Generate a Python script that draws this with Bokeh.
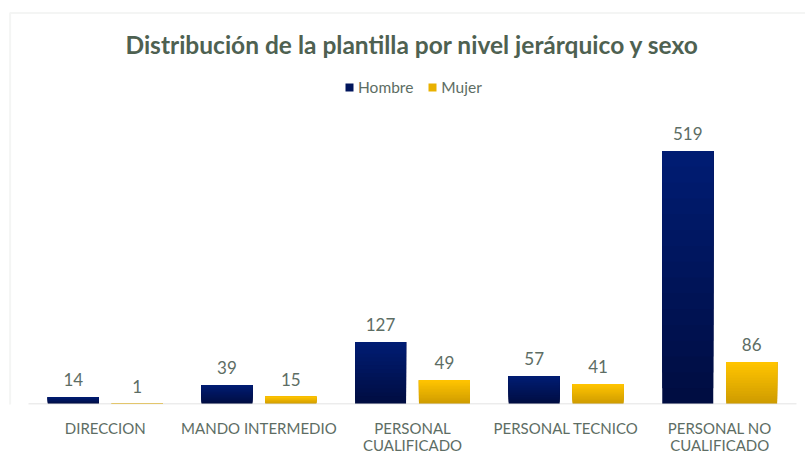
from bokeh.plotting import figure
from bokeh.models import Range1d, FixedTicker, Label, Legend, LegendItem, BoxAnnotation, ColumnDataSource
from bokeh.core.properties import value
from bokeh.embed import file_html
from bokeh.resources import INLINE

categories = ["DIRECCION", "MANDO INTERMEDIO", "PERSONAL\nCUALIFICADO",
              "PERSONAL TECNICO", "PERSONAL NO\nCUALIFICADO"]
hombre = [14, 39, 127, 57, 519]
mujer = [1, 15, 49, 41, 86]
series_names = ["Hombre", "Mujer"]

FONT = "Lato"
TXT = "#5d6d64"
TITLE_C = "#4e6151"

Y0, Y1 = -1, 827.8
p = figure(width=805, height=461,
           x_range=Range1d(-0.1823, 5.0586), y_range=Range1d(Y0, Y1),
           output_backend="svg", toolbar_location=None, title=None,
           y_axis_location=None,
           min_border_left=0, min_border_right=0, min_border_top=0, min_border_bottom=57)
p.outline_line_color = None
p.xgrid.grid_line_color = None
p.ygrid.grid_line_color = None

n = len(categories)
centers = [i + 0.5 for i in range(n)]


def lerp(c1, c2, t):
    a = [int(c1[i:i + 2], 16) for i in (1, 3, 5)]
    b = [int(c2[i:i + 2], 16) for i in (1, 3, 5)]
    return "#%02x%02x%02x" % tuple(round(a[j] + (b[j] - a[j]) * t) for j in range(3))


N = 16
grad = {"Hombre": ("#000d42", "#001c72"), "Mujer": ("#cf9c00", "#ffc400")}
offsets = {"Hombre": -0.208, "Mujer": 0.208}
legend_r = {}
for name, vals in zip(series_names, [hombre, mujer]):
    c0, c1 = grad[name]
    for k in range(N):
        src = ColumnDataSource(dict(
            x=[c + offsets[name] for c in centers],
            bottom=[v * k / N for v in vals],
            top=list(vals)))
        r = p.vbar(x="x", bottom="bottom", top="top", width=0.332, source=src,
                   fill_color=lerp(c0, c1, k / (N - 1)), line_color=None)
        if k == N // 2:
            legend_r[name] = r
    lsrc = ColumnDataSource(dict(x=[c + offsets[name] for c in centers], y=list(vals),
                                 t=[str(v) for v in vals]))
    p.text(x="x", y="y", text="t", source=lsrc, text_align="center", text_baseline="bottom",
           y_offset=-11, text_font_size="17px", text_color=TXT, text_font=value(FONT))

# baseline
p.segment(x0=[0], y0=[0], x1=[n], y1=[0], line_color="#d9d9d9", line_width=1)

p.xaxis.ticker = FixedTicker(ticks=centers)
p.xaxis.major_label_overrides = {c: lab for c, lab in zip(centers, categories)}
p.xaxis.axis_line_color = None
p.xaxis.major_tick_line_color = None
p.xaxis.minor_tick_line_color = None
p.xaxis.major_label_standoff = 8
p.xaxis.major_label_text_font_size = "15px"
p.xaxis.major_label_text_line_height = 0.95
p.xaxis.major_label_text_color = TXT
p.xaxis.major_label_text_font = FONT

title = Label(x=n / 2, y=737.5, text="Distribución de la plantilla por nivel jerárquico y sexo",
              text_align="center", text_baseline="middle", text_font_size="24.5px",
              text_font_style="bold", text_color=TITLE_C, text_font=FONT)
p.add_layout(title)

legend = Legend(items=[LegendItem(label=nm, renderers=[legend_r[nm]]) for nm in series_names],
                orientation="horizontal", location=(344, 308), border_line_color=None,
                background_fill_alpha=0, padding=0, margin=0, spacing=14,
                glyph_width=10, glyph_height=10, label_standoff=4, label_height=14,
                label_text_font_size="15.5px", label_text_color=TXT, label_text_font=FONT)
p.add_layout(legend)

border = BoxAnnotation(left=-0.120, right=6, top=802.2, bottom=-300, fill_alpha=0,
                       line_color="#d9dedb", line_width=2)
p.add_layout(border)

open("out.html", "w").write(file_html(p, INLINE))
